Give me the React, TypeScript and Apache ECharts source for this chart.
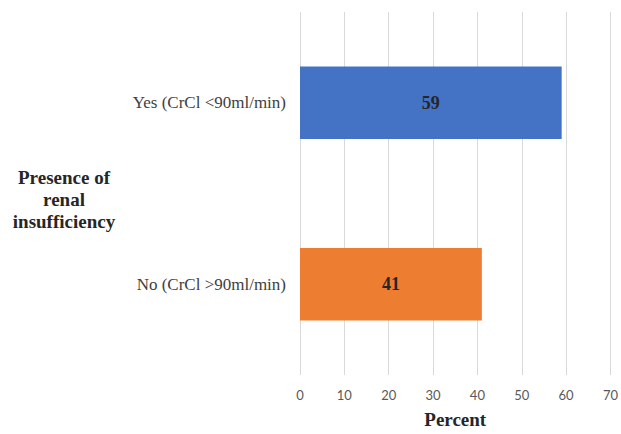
import React, { useEffect, useRef } from "react";
import * as echarts from "echarts";

const categories = ["Yes (CrCl <90ml/min)", "No (CrCl >90ml/min)"];
const values = [59, 41];
const barColors = ["#4472C4", "#ED7D31"];
const xTicks = { min: 0, max: 70, interval: 10 };

export default function App() {
  const ref = useRef<HTMLDivElement>(null);
  useEffect(() => {
    if (!ref.current) return;
    const chart = echarts.init(ref.current, undefined, { renderer: "svg" });
    chart.setOption({
      animation: false,
      backgroundColor: "#ffffff",
      grid: { left: 300, right: 8, top: 12, bottom: 51, containLabel: false },
      xAxis: {
        type: "value",
        min: xTicks.min,
        max: xTicks.max,
        interval: xTicks.interval,
        name: "Percent",
        nameLocation: "middle",
        nameGap: 35,
        nameTextStyle: {
          fontFamily: "Liberation Serif",
          fontWeight: "bold",
          fontSize: 19,
          color: "#262626",
        },
        axisLine: { show: false },
        axisTick: { show: false },
        axisLabel: {
          fontFamily: "Lato",
          fontSize: 13,
          color: "#595959",
          margin: 13,
        },
        splitLine: { show: true, lineStyle: { color: "#d9d9d9", width: 1 } },
      },
      yAxis: {
        type: "category",
        data: categories,
        inverse: true,
        axisLine: { show: false },
        axisTick: { show: false },
        axisLabel: {
          fontFamily: "Liberation Serif",
          fontSize: 17,
          color: "#404040",
          margin: 14,
        },
      },
      graphic: [
        {
          type: "text",
          x: 64,
          y: 166,
          style: {
            text: "Presence of\nrenal\ninsufficiency",
            align: "center",
            verticalAlign: "top",
            fontFamily: "Liberation Serif",
            fontWeight: "bold",
            fontSize: 19,
            lineHeight: 22,
            fill: "#262626",
          },
        },
      ],
      series: [
        {
          type: "bar",
          data: values.map((v, i) => ({ value: v, itemStyle: { color: barColors[i] } })),
          barWidth: "40%",
          label: {
            show: true,
            position: "inside",
            fontFamily: "Liberation Serif",
            fontWeight: "bold",
            fontSize: 18,
            color: "#262626",
          },
        },
      ],
    });
    return () => chart.dispose();
  }, []);
  return (
    <div
      ref={ref}
      style={{ position: "fixed", left: 0, top: 0, width: 621, height: 434 }}
    />
  );
}
